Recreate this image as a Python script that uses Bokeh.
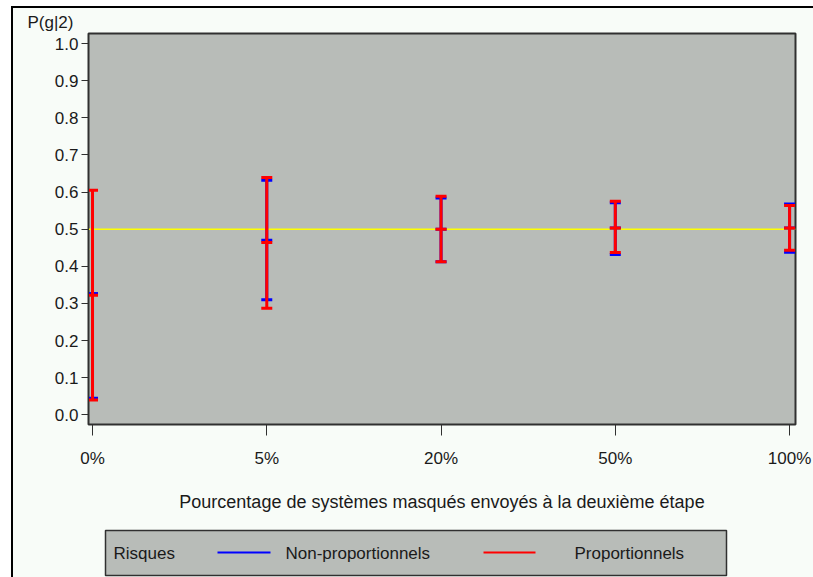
from bokeh.plotting import figure
from bokeh.layouts import column
from bokeh.models import (Range1d, FixedTicker, PrintfTickFormatter, Span, ColumnDataSource)
from bokeh.core.properties import value
from bokeh.embed import file_html
from bokeh.resources import INLINE

# ---- data ----
categories = ["0%", "5%", "20%", "50%", "100%"]
x_pos = [0, 1, 2, 3, 4]
prop_low = [0.040, 0.287, 0.412, 0.437, 0.443]
prop_mid = [0.322, 0.464, 0.500, 0.503, 0.503]
prop_high = [0.605, 0.639, 0.589, 0.575, 0.564]
nonprop_low = [0.045, 0.310, 0.412, 0.432, 0.438]
nonprop_mid = [0.326, 0.470, 0.500, 0.503, 0.503]
nonprop_high = [0.326, 0.632, 0.584, 0.571, 0.568]
y_ticks = [0.0, 0.1, 0.2, 0.3, 0.4, 0.5, 0.6, 0.7, 0.8, 0.9, 1.0]
ref_value = 0.5
legend_title = "Risques"
series_names = ["Non-proportionnels", "Proportionnels"]
series_colors = ["#0000FF", "#FF0000"]

FONT = "Liberation Sans"
TXT = "#1a1a1a"
PAGE = "#F8FCF8"
GREY = "#B8BCB8"
DARK = "#303030"

p = figure(width=800, height=510, output_backend="svg", toolbar_location=None,
           x_range=Range1d(-0.023, 4.034), y_range=Range1d(-0.026, 1.027),
           min_border_left=75, min_border_right=18, min_border_top=25,
           min_border_bottom=94)
p.background_fill_color = GREY
p.border_fill_color = PAGE
p.outline_line_color = DARK
p.outline_line_width = 2
p.grid.visible = False

# title used as the y label at top-left
p.title.text = "P(g|2)"
p.title.align = "left"
p.title.offset = -61
p.title.standoff = 3
p.title.text_font = FONT
p.title.text_font_size = "17px"
p.title.text_font_style = "normal"
p.title.text_color = TXT

# x axis
xa = p.xaxis[0]
xa.ticker = FixedTicker(ticks=x_pos)
xa.major_label_overrides = {i: c for i, c in zip(x_pos, categories)}
xa.axis_label = "Pourcentage de systèmes masqués envoyés à la deuxième étape"
xa.major_tick_out = 11
xa.major_tick_in = 0
xa.minor_tick_line_color = None
xa.major_label_standoff = 13
xa.axis_label_standoff = 21
xa.axis_line_color = DARK
xa.major_tick_line_color = DARK
xa.major_label_text_font = FONT
xa.major_label_text_font_size = "17px"
xa.major_label_text_color = TXT
xa.axis_label_text_font = FONT
xa.axis_label_text_font_size = "18px"
xa.axis_label_text_font_style = "normal"
xa.axis_label_text_color = TXT

# y axis
ya = p.yaxis[0]
ya.ticker = FixedTicker(ticks=y_ticks)
ya.formatter = PrintfTickFormatter(format="%.1f")
ya.major_tick_out = 7
ya.major_tick_in = 0
ya.minor_tick_line_color = None
ya.major_label_standoff = 3
ya.axis_line_color = DARK
ya.major_tick_line_color = DARK
ya.major_label_text_font = FONT
ya.major_label_text_font_size = "17px"
ya.major_label_text_color = TXT

# reference line
p.add_layout(Span(location=ref_value, dimension="width", line_color="#FFFF00",
                  line_width=1.5, level="underlay"))

# error bars
def bars(low, mid, high, color):
    src = ColumnDataSource(dict(x=x_pos, low=low, mid=mid, high=high))
    p.segment(x0="x", y0="low", x1="x", y1="high", source=src,
              line_color=color, line_width=3)
    for col in ("low", "mid", "high"):
        p.scatter(x="x", y=col, source=src, marker="dash", size=11,
                  line_color=color, line_width=3)

bars(nonprop_low, nonprop_mid, nonprop_high, series_colors[0])
bars(prop_low, prop_mid, prop_high, series_colors[1])

# ---- legend strip (pixel coordinates, same horizontal frame as the chart) ----
q = figure(width=800, height=59, output_backend="svg", toolbar_location=None,
           x_range=Range1d(0, 707), y_range=Range1d(0, 59),
           x_axis_type=None, y_axis_type=None, min_border=0,
           min_border_left=75, min_border_right=18, min_border_top=0,
           min_border_bottom=0)
q.background_fill_color = PAGE
q.border_fill_color = PAGE
q.outline_line_color = None
q.grid.visible = False

q.quad(left=[17], right=[638], bottom=[2], top=[47], fill_color=GREY,
       line_color=DARK, line_width=1.5)
q.text(x=[25], y=[24], text=[legend_title], text_baseline="middle",
       text_font=value(FONT), text_font_size=value("17px"), text_color=TXT)
q.segment(x0=[129, 395], y0=[25, 25], x1=[182, 447], y1=[25, 25],
          line_color=series_colors, line_width=2)
q.text(x=[197, 486], y=[24, 24], text=series_names, text_baseline="middle",
       text_font=value(FONT), text_font_size=value("17px"), text_color=TXT)

layout = column(p, q, spacing=0)
layout.margin = (6, 0, 0, 11)
layout.styles = {"border-top": "2px solid black", "border-left": "2px solid black",
                 "background-color": PAGE}

open("out.html", "w").write(file_html(layout, INLINE))
